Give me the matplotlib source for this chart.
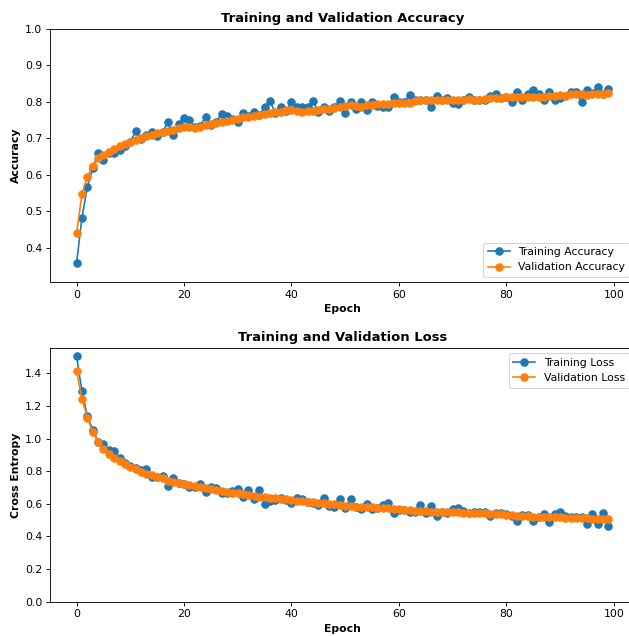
import matplotlib
matplotlib.use("Agg")
import matplotlib.pyplot as plt

epochs = list(range(100))

train_acc = [
    0.359, 0.483, 0.566, 0.618, 0.660, 0.641, 0.660, 0.660, 0.667, 0.680,
    0.690, 0.720, 0.698, 0.708, 0.717, 0.706, 0.717, 0.745, 0.710, 0.740,
    0.755, 0.750, 0.730, 0.734, 0.758, 0.737, 0.745, 0.767, 0.760, 0.754,
    0.745, 0.770, 0.760, 0.772, 0.763, 0.787, 0.801, 0.770, 0.785, 0.774,
    0.800, 0.787, 0.785, 0.787, 0.803, 0.772, 0.785, 0.775, 0.785, 0.803,
    0.768, 0.800, 0.780, 0.800, 0.778, 0.800, 0.788, 0.785, 0.785, 0.813,
    0.800, 0.800, 0.818, 0.805, 0.805, 0.805, 0.785, 0.817, 0.805, 0.810,
    0.798, 0.793, 0.805, 0.812, 0.805, 0.805, 0.805, 0.817, 0.820, 0.810,
    0.813, 0.800, 0.826, 0.805, 0.820, 0.833, 0.820, 0.805, 0.826, 0.805,
    0.810, 0.817, 0.826, 0.826, 0.800, 0.833, 0.825, 0.840, 0.822, 0.835,
]

val_acc = [
    0.441, 0.548, 0.595, 0.623, 0.646, 0.655, 0.663, 0.670, 0.678, 0.684,
    0.690, 0.696, 0.700, 0.705, 0.710, 0.714, 0.717, 0.719, 0.722, 0.727,
    0.731, 0.731, 0.728, 0.732, 0.736, 0.739, 0.743, 0.746, 0.748, 0.749,
    0.754, 0.757, 0.759, 0.761, 0.764, 0.767, 0.769, 0.771, 0.773, 0.777,
    0.778, 0.775, 0.772, 0.774, 0.776, 0.778, 0.780, 0.781, 0.783, 0.786,
    0.789, 0.790, 0.788, 0.786, 0.790, 0.792, 0.793, 0.794, 0.795, 0.796,
    0.797, 0.797, 0.797, 0.803, 0.804, 0.804, 0.804, 0.805, 0.805, 0.805,
    0.806, 0.806, 0.806, 0.807, 0.805, 0.806, 0.808, 0.810, 0.811, 0.811,
    0.812, 0.812, 0.812, 0.812, 0.813, 0.813, 0.813, 0.814, 0.815, 0.815,
    0.818, 0.817, 0.820, 0.821, 0.820, 0.819, 0.820, 0.821, 0.820, 0.824,
]

train_loss = [
    1.504, 1.290, 1.137, 1.055, 0.980, 0.966, 0.933, 0.925, 0.882, 0.852,
    0.831, 0.817, 0.807, 0.815, 0.766, 0.762, 0.772, 0.709, 0.756, 0.725,
    0.721, 0.705, 0.701, 0.721, 0.674, 0.701, 0.699, 0.664, 0.664, 0.680,
    0.689, 0.644, 0.685, 0.628, 0.685, 0.599, 0.619, 0.623, 0.634, 0.623,
    0.607, 0.634, 0.628, 0.613, 0.607, 0.593, 0.634, 0.587, 0.579, 0.628,
    0.573, 0.628, 0.583, 0.566, 0.599, 0.566, 0.573, 0.593, 0.607, 0.546,
    0.562, 0.562, 0.552, 0.552, 0.593, 0.542, 0.587, 0.526, 0.552, 0.546,
    0.566, 0.573, 0.556, 0.542, 0.552, 0.552, 0.552, 0.526, 0.546, 0.542,
    0.538, 0.526, 0.497, 0.532, 0.532, 0.497, 0.518, 0.538, 0.487, 0.538,
    0.552, 0.526, 0.518, 0.518, 0.518, 0.477, 0.538, 0.477, 0.546, 0.465,
]

val_loss = [
    1.412, 1.245, 1.129, 1.041, 0.980, 0.939, 0.905, 0.882, 0.862, 0.844,
    0.827, 0.811, 0.797, 0.786, 0.776, 0.766, 0.756, 0.742, 0.736, 0.729,
    0.721, 0.715, 0.709, 0.705, 0.695, 0.689, 0.685, 0.678, 0.674, 0.668,
    0.664, 0.660, 0.654, 0.650, 0.644, 0.640, 0.636, 0.634, 0.630, 0.628,
    0.623, 0.619, 0.617, 0.613, 0.611, 0.607, 0.603, 0.599, 0.597, 0.593,
    0.589, 0.587, 0.583, 0.583, 0.579, 0.579, 0.577, 0.573, 0.573, 0.566,
    0.566, 0.562, 0.562, 0.558, 0.558, 0.556, 0.552, 0.552, 0.550, 0.550,
    0.548, 0.550, 0.546, 0.546, 0.542, 0.542, 0.542, 0.538, 0.538, 0.536,
    0.532, 0.532, 0.528, 0.528, 0.526, 0.521, 0.521, 0.521, 0.518, 0.518,
    0.518, 0.515, 0.515, 0.511, 0.511, 0.511, 0.509, 0.509, 0.509, 0.509,
]

DPI = 78.625
W, H = 629, 636
fig = plt.figure(figsize=(W / DPI, H / DPI), dpi=DPI)

left = 50 / W
width = 585 / W
ax1 = fig.add_axes([left, (H - 282.3) / H, width, 253.6 / H])
ax2 = fig.add_axes([left, (H - 601.7) / H, width, 253.7 / H])

MS = 6.8
ax1.plot(epochs, train_acc, marker='o', markersize=MS, label='Training Accuracy')
ax1.plot(epochs, val_acc, marker='o', markersize=MS, label='Validation Accuracy')
ax1.legend(loc='lower right')
ax1.set_ylabel('Accuracy', fontweight='bold')
ax1.set_xlabel('Epoch', fontweight='bold')
ax1.set_ylim(0.306, 1.0)
ax1.set_title('Training and Validation Accuracy', fontweight='bold')

ax2.plot(epochs, train_loss, marker='o', markersize=MS, label='Training Loss')
ax2.plot(epochs, val_loss, marker='o', markersize=MS, label='Validation Loss')
ax2.legend(loc='upper right')
ax2.set_ylabel('Cross Entropy', fontweight='bold')
ax2.set_xlabel('Epoch', fontweight='bold')
ax2.set_ylim(0, ax2.get_ylim()[1])
ax2.set_title('Training and Validation Loss', fontweight='bold')

fig.savefig('out.png', dpi=DPI)
